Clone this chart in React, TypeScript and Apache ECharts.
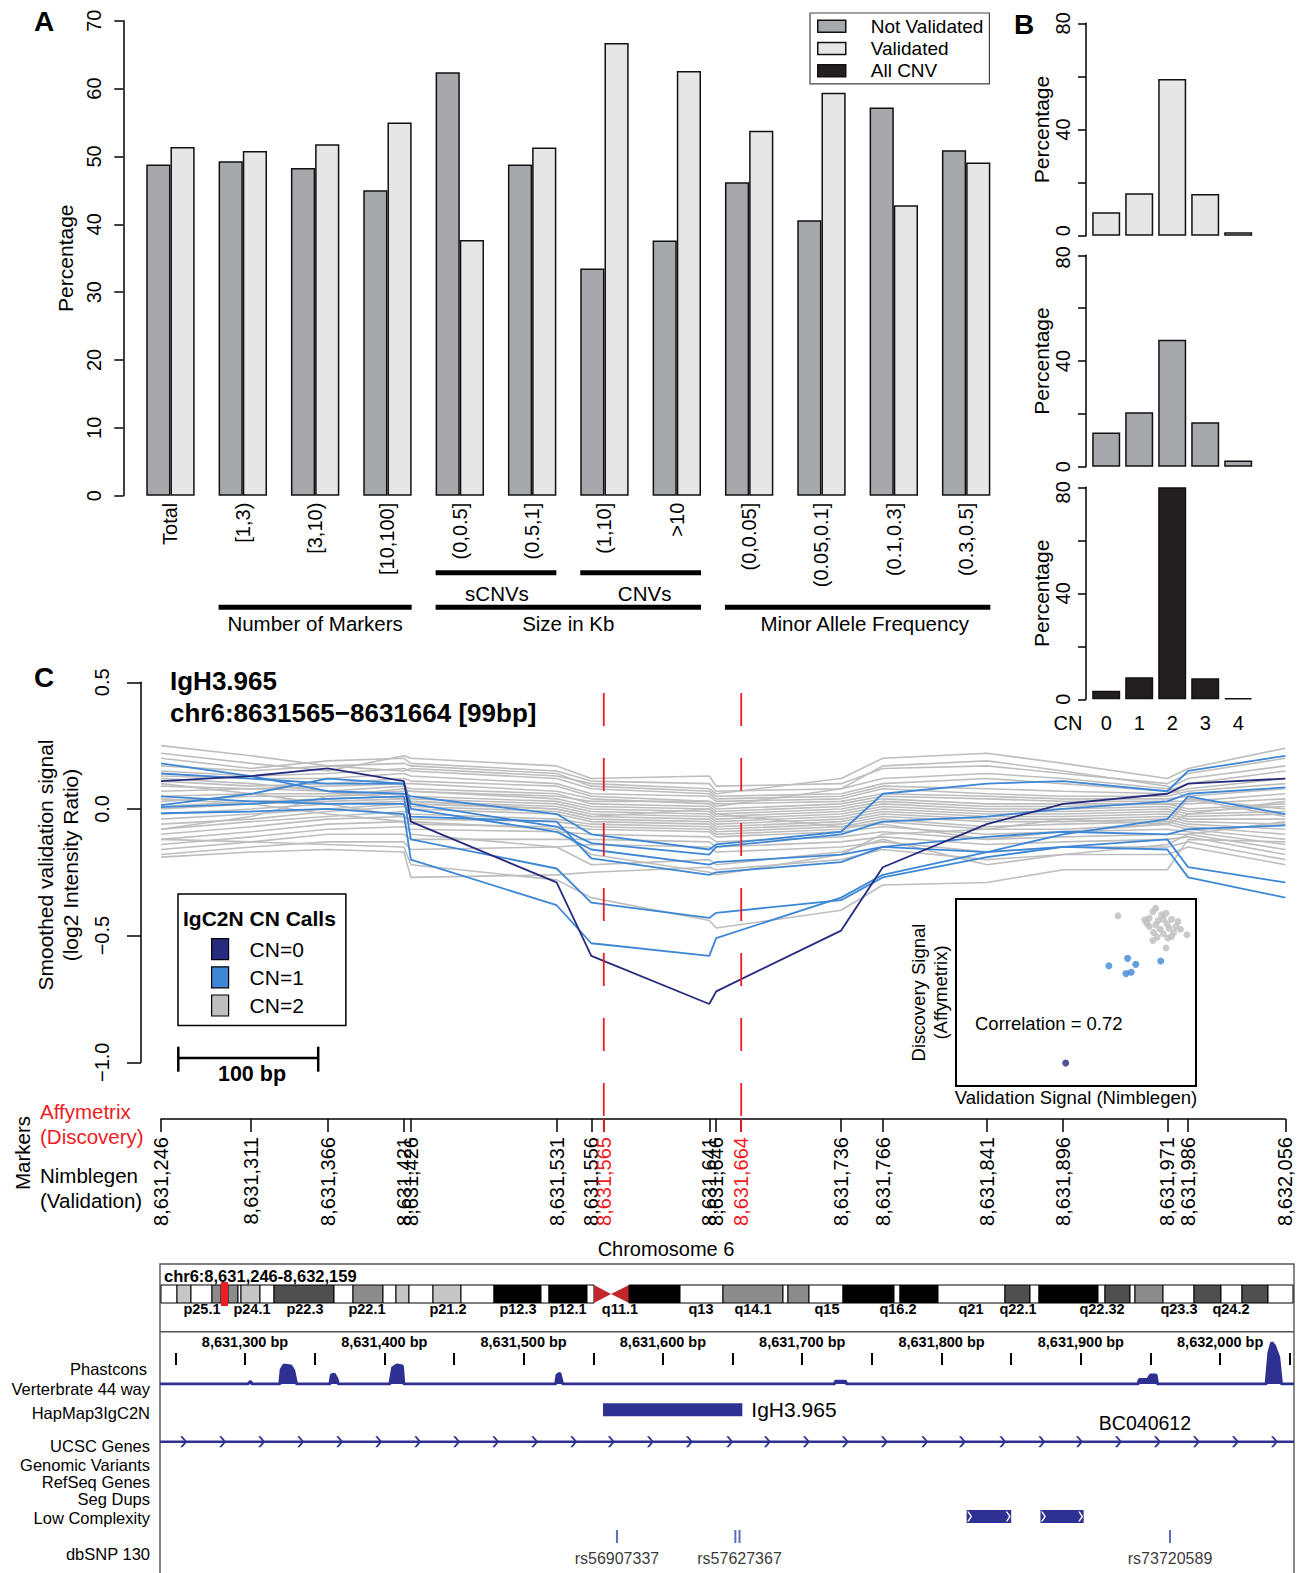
import React, { useEffect, useRef } from "react";
import * as echarts from "echarts";

const FONT = '"Liberation Sans", Arial, Helvetica, sans-serif';

// ---------------- Panel A ----------------
const groupLabels = ["Total", "[1,3)", "[3,10)", "[10,100]", "(0,0.5]", "(0.5,1]", "(1,10]", ">10", "(0,0.05]", "(0.05,0.1]", "(0.1,0.3]", "(0.3,0.5]"];
const notValidatedPct = [48.8, 49.3, 48.3, 45.0, 62.4, 48.8, 33.5, 37.6, 46.2, 40.6, 57.2, 50.9];
const validatedPct = [51.4, 50.8, 51.8, 55.0, 37.7, 51.3, 66.7, 62.6, 53.8, 59.4, 42.8, 49.1];
const bracketGroups = [
  { label: "sCNVs", from: 4, to: 5, row: 0, dx: 1 },
  { label: "CNVs", from: 6, to: 7, row: 0, dx: 4 },
  { label: "Number of Markers", from: 1, to: 3, row: 1, dx: 0 },
  { label: "Size in Kb", from: 4, to: 7, row: 1, dx: 0 },
  { label: "Minor Allele Frequency", from: 8, to: 11, row: 1, dx: 7 },
];

// ---------------- Panel B ----------------
const cnCategories = ["0", "1", "2", "3", "4"];
const validatedByCN = [8.8, 16.0, 59.0, 15.7, 1.3];
const notValidatedByCN = [12.9, 20.6, 48.0, 16.8, 2.3];
const allCnvByCN = [3.2, 8.3, 80.0, 7.9, 0.5];

// ---------------- Panel C ----------------
const nimblegenMarkers = [8631246, 8631311, 8631366, 8631421, 8631426, 8631531, 8631556, 8631641, 8631646, 8631736, 8631766, 8631841, 8631896, 8631971, 8631986, 8632056];
const affyMarkers = [8631565, 8631664];
const cn0Lines = [
  [0.11, 0.13, 0.16, 0.11, -0.05, -0.29, -0.58, -0.77, -0.72, -0.48, -0.23, -0.06, 0.02, 0.06, 0.10, 0.12],
];
const cn1Lines = [
  [0.18, 0.13, 0.07, 0.06, 0.05, -0.02, -0.10, -0.16, -0.14, -0.09, 0.06, 0.10, 0.11, 0.07, 0.15, 0.21],
  [0.14, 0.12, 0.10, 0.10, 0.02, -0.07, -0.135, -0.18, -0.15, -0.10, -0.05, -0.03, 0.00, 0.03, 0.06, 0.085],
  [0.015, 0.06, 0.12, 0.10, 0.00, -0.09, -0.16, -0.22, -0.21, -0.18, -0.15, -0.17, -0.15, -0.16, -0.27, -0.35],
  [0.007, 0.02, 0.04, 0.05, -0.12, -0.235, -0.37, -0.43, -0.41, -0.36, -0.27, -0.19, -0.15, -0.12, -0.23, -0.29],
  [-0.017, -0.01, 0.0, -0.02, -0.20, -0.38, -0.53, -0.58, -0.51, -0.35, -0.26, -0.17, -0.10, -0.04, 0.05, -0.02],
  [0.05, 0.03, 0.02, 0.02, -0.03, -0.05, -0.195, -0.26, -0.25, -0.21, -0.15, -0.11, -0.09, -0.10, -0.08, -0.065],
];
const cn2Lines = [
  [0.25, 0.21, 0.17, 0.15, 0.16, 0.13, 0.10, 0.08, 0.06, 0.12, 0.20, 0.22, 0.18, 0.12, 0.16, 0.24],
  [0.22, 0.18, 0.15, 0.21, 0.20, 0.17, 0.12, 0.13, 0.09, 0.10, 0.16, 0.17, 0.14, 0.10, 0.14, 0.20],
  [0.20, 0.16, 0.19, 0.20, 0.18, 0.15, 0.11, 0.10, 0.07, 0.08, 0.12, 0.14, 0.12, 0.08, 0.12, 0.17],
  [0.17, 0.15, 0.17, 0.18, 0.17, 0.14, 0.09, 0.07, 0.05, 0.06, 0.10, 0.12, 0.10, 0.07, 0.10, 0.15],
  [0.15, 0.13, 0.14, 0.16, 0.15, 0.12, 0.08, 0.06, 0.04, 0.05, 0.09, 0.08, 0.07, 0.06, 0.08, 0.12],
  [0.13, 0.12, 0.12, 0.14, 0.13, 0.10, 0.06, 0.05, 0.03, 0.04, 0.08, 0.06, 0.05, 0.05, 0.07, 0.10],
  [0.11, 0.09, 0.10, 0.12, 0.11, 0.09, 0.05, 0.03, 0.02, 0.03, 0.06, 0.05, 0.04, 0.04, 0.05, 0.08],
  [0.09, 0.08, 0.09, 0.10, 0.10, 0.07, 0.04, 0.02, 0.00, 0.02, 0.05, 0.04, 0.03, 0.03, 0.03, 0.06],
  [0.07, 0.08, 0.07, 0.09, 0.08, 0.06, 0.02, 0.01, -0.01, 0.01, 0.04, 0.02, 0.02, 0.02, 0.02, 0.04],
  [0.05, 0.06, 0.06, 0.07, 0.07, 0.04, 0.01, 0.00, -0.02, 0.00, 0.03, 0.01, 0.01, 0.02, 0.00, 0.02],
  [0.03, 0.05, 0.05, 0.06, 0.05, 0.03, 0.00, -0.01, -0.03, -0.01, 0.02, 0.00, 0.00, 0.01, -0.01, 0.01],
  [0.01, 0.03, 0.04, 0.05, 0.04, 0.02, -0.01, -0.02, -0.04, -0.02, 0.01, -0.01, -0.01, 0.00, -0.02, -0.01],
  [0.00, 0.02, 0.03, 0.04, 0.03, 0.01, -0.02, -0.03, -0.05, -0.03, 0.00, -0.02, -0.02, -0.01, -0.03, -0.02],
  [-0.02, 0.00, 0.02, 0.03, 0.02, 0.00, -0.03, -0.04, -0.06, -0.04, -0.01, -0.03, -0.03, -0.02, -0.04, -0.04],
  [-0.04, -0.02, 0.00, 0.02, 0.01, -0.01, -0.04, -0.05, -0.07, -0.05, -0.02, -0.04, -0.04, -0.03, -0.05, -0.06],
  [-0.06, -0.04, -0.01, 0.01, 0.00, -0.02, -0.05, -0.06, -0.08, -0.06, -0.03, -0.05, -0.05, -0.04, -0.06, -0.08],
  [-0.08, -0.05, -0.03, -0.01, -0.02, -0.04, -0.06, -0.07, -0.09, -0.07, -0.04, -0.07, -0.06, -0.05, -0.07, -0.10],
  [-0.10, -0.07, -0.04, -0.03, -0.04, -0.05, -0.07, -0.08, -0.10, -0.08, -0.05, -0.08, -0.08, -0.06, -0.08, -0.12],
  [-0.12, -0.09, -0.06, -0.05, -0.06, -0.07, -0.08, -0.09, -0.11, -0.09, -0.07, -0.10, -0.09, -0.08, -0.09, -0.14],
  [-0.14, -0.11, -0.08, -0.07, -0.08, -0.09, -0.10, -0.11, -0.13, -0.11, -0.09, -0.12, -0.11, -0.10, -0.10, -0.16],
  [-0.16, -0.13, -0.10, -0.10, -0.12, -0.12, -0.12, -0.13, -0.15, -0.13, -0.11, -0.14, -0.13, -0.12, -0.11, -0.18],
  [-0.18, -0.15, -0.13, -0.13, -0.16, -0.15, -0.14, -0.15, -0.17, -0.15, -0.13, -0.17, -0.15, -0.15, -0.13, -0.20],
  [-0.19, -0.17, -0.16, -0.17, -0.27, -0.26, -0.25, -0.23, -0.24, -0.20, -0.16, -0.20, -0.18, -0.18, -0.15, -0.22],
  [-0.12, -0.13, -0.14, -0.15, -0.22, -0.28, -0.35, -0.44, -0.47, -0.40, -0.30, -0.29, -0.24, -0.24, -0.12, -0.13],
  [0.04, 0.02, -0.02, -0.05, -0.10, -0.15, -0.22, -0.20, -0.22, -0.17, -0.12, -0.22, -0.18, -0.14, -0.10, -0.05],
  [0.10, 0.06, 0.02, -0.03, -0.05, -0.08, -0.18, -0.25, -0.26, -0.18, -0.10, -0.08, -0.04, -0.06, -0.02, 0.03],
  [-0.08, -0.03, 0.05, 0.08, 0.07, 0.05, 0.03, 0.03, 0.01, 0.08, 0.17, 0.19, 0.15, 0.09, 0.04, -0.03],
  [0.12, 0.10, 0.07, 0.04, 0.03, 0.00, -0.03, 0.00, -0.02, -0.07, -0.06, -0.12, -0.09, -0.06, 0.04, 0.00],
];
// inset: [validation (Nimblegen), discovery (Affymetrix)]
const insetCN2 = [[-0.125, 0.32], [0.032, 0.401], [0.02, 0.365], [0.057, 0.33], [0.075, 0.348], [-0.014, 0.277], [0.005, 0.294], [0.042, 0.269], [0.064, 0.284], [0.098, 0.284], [0.032, 0.223], [0.079, 0.234], [0.116, 0.206], [0.005, 0.206], [0.051, 0.177], [0.088, 0.188], [0.135, 0.177], [0.023, 0.142], [0.064, 0.128], [0.107, 0.142], [0.162, 0.117], [0.038, 0.092], [0.083, 0.082], [0.02, 0.057], [0.075, -0.025], [-0.005, 0.241], [0.125, 0.259], [0.098, 0.099]];
const insetCN1 = [[-0.163, -0.213], [-0.085, -0.135], [-0.051, -0.199], [-0.092, -0.298], [-0.07, -0.284], [0.053, -0.163]];
const insetCN0 = [[-0.343, -1.255]];
const correlationText = "Correlation = 0.72";

// ---------------- Genome browser ----------------
const browserMin = 8631239;
const browserMax = 8632053;
const rulerTicks = [8631250, 8631300, 8631350, 8631400, 8631450, 8631500, 8631550, 8631600, 8631650, 8631700, 8631750, 8631800, 8631850, 8631900, 8631950, 8632000, 8632050];
const rulerLabels = [8631300, 8631400, 8631500, 8631600, 8631700, 8631800, 8631900, 8632000];
const phastcons = [
  [8631239, 0], [8631302, 0], [8631304, 0.06], [8631305, 0],
  [8631325, 0], [8631326, 0.32], [8631328, 0.42], [8631333, 0.4], [8631335, 0.3], [8631337, 0],
  [8631361, 0], [8631362, 0.2], [8631364, 0.22], [8631366, 0.12], [8631367, 0],
  [8631404, 0], [8631406, 0.36], [8631409, 0.42], [8631413, 0.4], [8631414, 0],
  [8631523, 0], [8631524, 0.2], [8631526, 0.24], [8631528, 0],
  [8631723, 0], [8631724, 0.06], [8631731, 0.06], [8631732, 0],
  [8631941, 0], [8631942, 0.1], [8631948, 0.1], [8631950, 0.2], [8631954, 0.2], [8631955, 0],
  [8632033, 0], [8632035, 0.7], [8632037, 0.92], [8632039, 0.85], [8632042, 0.6], [8632044, 0],
  [8632053, 0],
];
const hapmapCnv = { name: "IgH3.965", start: 8631557, end: 8631657 };
const ucscGeneName = "BC040612";
const ucscGeneLabelAt = 8631946;
const ucscStrandMarks = [8631256, 8631284, 8631312, 8631340, 8631368, 8631396, 8631424, 8631452, 8631480, 8631508, 8631536, 8631563, 8631591, 8631619, 8631648, 8631675, 8631703, 8631731, 8631759, 8631788, 8631815, 8631844, 8631872, 8631899, 8631927, 8631955, 8631983, 8632011, 8632039];
const lowComplexity = [[8631818, 8631850], [8631871, 8631902]];
const dbSnp = [
  { bp: 8631567, name: "rs56907337" },
  { bp: 8631652, name: "" },
  { bp: 8631655, name: "rs57627367" },
  { bp: 8631964, name: "rs73720589" },
];
// ideogram bands [start, end, type] in ideogram units; 0 white,1 light,2 gray,3 dark,4 black,5 marker,6/7 centromere
const ideogramBands = [
  [0, 16, 0], [16, 30, 1], [30, 51, 0], [51, 60, 2], [67, 77, 2], [77, 80, 0], [80, 99, 1], [99, 113, 0],
  [113, 173, 3], [173, 192, 0], [192, 222, 2], [222, 235, 0], [235, 248, 1], [248, 272, 0], [272, 300, 1],
  [300, 333, 0], [333, 380, 4], [380, 388, 0], [388, 426, 4], [426, 433, 0], [433, 450, 6], [450, 468, 7],
  [468, 519, 4], [519, 562, 0], [562, 622, 2], [622, 627, 0], [627, 648, 2], [648, 682, 0], [682, 733, 4],
  [733, 739, 0], [739, 777, 4], [777, 844, 0], [844, 869, 3], [869, 878, 0], [878, 937, 4], [937, 944, 0],
  [944, 969, 3], [969, 974, 0], [974, 1002, 2], [1002, 1033, 0], [1033, 1060, 3], [1060, 1081, 0],
  [1081, 1107, 3], [1107, 1132, 0], [60, 67, 5],
];
const ideogramLabels = [
  ["p25.1", 41], ["p24.1", 91], ["p22.3", 144], ["p22.1", 206], ["p21.2", 287], ["p12.3", 357], ["p12.1", 407],
  ["q11.1", 459], ["q13", 540], ["q14.1", 592], ["q15", 666], ["q16.2", 737], ["q21", 810], ["q22.1", 857],
  ["q22.32", 941], ["q23.3", 1018], ["q24.2", 1070],
];
const trackLabels = [
  ["Phastcons", 147, 1369], ["Verterbrate 44 way", 150, 1389], ["HapMap3IgC2N", 150, 1413], ["UCSC Genes", 150, 1446],
  ["Genomic Variants", 150, 1465], ["RefSeq Genes", 150, 1482], ["Seg Dups", 150, 1499], ["Low Complexity", 150, 1518],
  ["dbSNP 130", 150, 1554],
];

// ---------------- styles ----------------
const C_DARK = "#a7a8ac";
const C_LIGHT = "#e6e6e6";
const C_ALL = "#231f20";
const C_CN0 = "#262b7d";
const C_CN1 = "#3d87d6";
const C_CN2 = "#bebebe";
const C_NAVY = "#2e3192";
const BAR_W_A = 24.2;
const BAR_W_B = 28;
const CHEVRON = "path://M0,0L3,0L9,6L3,12L0,12L6,6Z";
const bandFill = ["#ffffff", "#c6c6c6", "#8c8c8c", "#4f4f4f", "#000000"];

const fmt = (v: number) => v.toLocaleString("en-US");

function hiddenAxis(extra: any = {}) {
  return {
    show: true,
    axisLine: { show: false },
    axisTick: { show: false },
    axisLabel: { show: false },
    splitLine: { show: false },
    ...extra,
  };
}

function buildOption(): any {
  const grids: any[] = [
    { left: 134.3, top: 20.7, width: 868, height: 475 }, // 0 A
    { left: 1089.7, top: 23.3, width: 165, height: 212.4 }, // 1 B top
    { left: 1089.7, top: 255.3, width: 165, height: 211.4 }, // 2 B mid
    { left: 1089.7, top: 487.3, width: 165, height: 212 }, // 3 B bottom
    { left: 161, top: 682.3, width: 1124.3, height: 380 }, // 4 C lines
    { left: 161, top: 693, width: 1124.3, height: 426 }, // 5 markers axis
    { left: 956, top: 899, width: 240, height: 187, show: true, borderColor: "#000", borderWidth: 2, backgroundColor: "transparent" }, // 6 inset
    { left: 160, top: 1339, width: 1134, height: 45 }, // 7 phastcons
    { left: 160, top: 1399.7, width: 1134, height: 20 }, // 8 hapmap
    { left: 160, top: 1431.7, width: 1134, height: 20 }, // 9 ucsc
    { left: 160, top: 1506.5, width: 1134, height: 20 }, // 10 low complexity
    { left: 160, top: 1526.5, width: 1134, height: 20 }, // 11 dbsnp
    { left: 161, top: 1285, width: 1132, height: 18 }, // 12 ideogram
    { left: 161, top: 1302, width: 1132, height: 14 }, // 13 ideogram labels
    { left: 160, top: 1364, width: 1134, height: 1 }, // 14 ruler
  ].map((g) => ({ containLabel: false, outerBoundsMode: "none", ...g }));

  const axisBlack = { lineStyle: { color: "#000", width: 1.5 } };
  const lblBase = { color: "#000", fontFamily: FONT };

  const xAxis: any[] = [
    hiddenAxis({ type: "category", gridIndex: 0, data: groupLabels, axisLabel: { show: true, ...lblBase, fontSize: 20, rotate: 90, margin: 7, interval: 0 } }),
    hiddenAxis({ type: "category", gridIndex: 1, data: cnCategories }),
    hiddenAxis({ type: "category", gridIndex: 2, data: cnCategories }),
    hiddenAxis({ type: "category", gridIndex: 3, data: cnCategories, axisLabel: { show: true, ...lblBase, fontSize: 20, margin: 14, interval: 0 } }),
    hiddenAxis({ type: "value", gridIndex: 4, min: nimblegenMarkers[0], max: nimblegenMarkers[nimblegenMarkers.length - 1] }),
    {
      type: "value", gridIndex: 5, position: "bottom",
      min: nimblegenMarkers[0], max: nimblegenMarkers[nimblegenMarkers.length - 1],
      axisLine: { show: true, onZero: false, ...axisBlack },
      axisTick: { show: true, length: 13, customValues: [...nimblegenMarkers, ...affyMarkers], lineStyle: { color: "#000", width: 1.5 } },
      axisLabel: {
        show: true, ...lblBase, fontSize: 20, rotate: 90, margin: 18,
        customValues: [...nimblegenMarkers, ...affyMarkers],
        formatter: (v: number) => (affyMarkers.includes(v) ? `{red|${fmt(v)}}` : fmt(v)),
        rich: { red: { color: "#ee1c25", fontSize: 20, fontFamily: FONT } },
      },
      splitLine: { show: false },
    },
    hiddenAxis({
      type: "value", gridIndex: 6, min: -0.8, max: 0.2,
      name: "Validation Signal (Nimblegen)", nameLocation: "middle", nameGap: 2,
      nameTextStyle: { ...lblBase, fontSize: 18.5, lineHeight: 19, verticalAlign: "top" },
    }),
    hiddenAxis({ type: "value", gridIndex: 7, min: browserMin, max: browserMax }),
    hiddenAxis({ type: "value", gridIndex: 8, min: browserMin, max: browserMax }),
    hiddenAxis({ type: "value", gridIndex: 9, min: browserMin, max: browserMax }),
    hiddenAxis({ type: "value", gridIndex: 10, min: browserMin, max: browserMax }),
    hiddenAxis({ type: "value", gridIndex: 11, min: browserMin, max: browserMax }),
    hiddenAxis({ type: "value", gridIndex: 12, min: 0, max: 1132 }),
    hiddenAxis({ type: "value", gridIndex: 13, min: 0, max: 1132 }),
    {
      type: "value", gridIndex: 14, position: "top", min: browserMin, max: browserMax,
      axisLine: { show: false },
      axisTick: { show: true, length: 12, customValues: rulerTicks, lineStyle: { color: "#000", width: 2 } },
      axisLabel: { show: true, ...lblBase, fontSize: 14.5, fontWeight: "bold", margin: 15, customValues: rulerLabels, formatter: (v: number) => `${fmt(v)} bp` },
      splitLine: { show: false },
    },
  ];

  // panel B label nudges (labels at the junction of stacked panels sit slightly apart, like the reference)
  const bLabel = (gi: number) => (v: number) => {
    if (v % 40 !== 0) return "";
    if (v === 0 && gi === 1) return "{lo|0}";
    if (v === 80 && gi === 3) return "{hi|80}";
    if (v === 80 && gi === 2) return "{hm|80}";
    return String(v);
  };
  const bRich = {
    lo: { padding: [0, 0, 0, 10], fontSize: 20, fontFamily: FONT, color: "#000" },
    hi: { padding: [0, 10, 0, 0], fontSize: 20, fontFamily: FONT, color: "#000" },
    hm: { padding: [0, 4, 0, 0], fontSize: 20, fontFamily: FONT, color: "#000" },
  };

  const yAxis: any[] = [
    {
      type: "value", gridIndex: 0, min: 0, max: 70, interval: 10, offset: 11,
      axisLine: { show: true, ...axisBlack }, axisTick: { show: true, length: 9, lineStyle: { width: 1.5, color: "#000" } },
      axisLabel: { ...lblBase, fontSize: 20, lineHeight: 20, rotate: 90, margin: 19 },
      splitLine: { show: false },
      name: "Percentage", nameLocation: "middle", nameGap: 46,
      nameTextStyle: { ...lblBase, fontSize: 21, lineHeight: 21 },
    },
    ...[1, 2, 3].map((gi) => ({
      type: "value", gridIndex: gi, min: 0, max: 80, interval: 20, offset: 3.7,
      axisLine: { show: true, ...axisBlack }, axisTick: { show: true, length: 8, lineStyle: { width: 1.5, color: "#000" } },
      axisLabel: { ...lblBase, fontSize: 20, lineHeight: 20, rotate: 90, margin: 13, formatter: bLabel(gi), rich: bRich },
      splitLine: { show: false },
      name: "Percentage", nameLocation: "middle", nameGap: 30,
      nameTextStyle: { ...lblBase, fontSize: 21, lineHeight: 21 },
    })),
    {
      type: "value", gridIndex: 4, min: -1, max: 0.5, interval: 0.5, offset: 20,
      axisLine: { show: true, ...axisBlack }, axisTick: { show: true, length: 14, lineStyle: { width: 1.5, color: "#000" } },
      axisLabel: { ...lblBase, fontSize: 20, lineHeight: 20, rotate: 90, margin: 29, formatter: (v: number) => (v < 0 ? "\u2212" : "") + Math.abs(v).toFixed(1) },
      splitLine: { show: false },
    },
    hiddenAxis({ type: "value", gridIndex: 5, min: 0, max: 1 }),
    hiddenAxis({
      type: "value", gridIndex: 6, min: -1.5, max: 0.5,
      name: "Discovery Signal\n(Affymetrix)", nameLocation: "middle", nameGap: 4,
      nameTextStyle: { ...lblBase, fontSize: 18.5, lineHeight: 22.5 },
    }),
    hiddenAxis({ type: "value", gridIndex: 7, min: 0, max: 1 }),
    ...[8, 9, 10, 11, 12, 13, 14].map((gi) => hiddenAxis({ type: "value", gridIndex: gi, min: 0, max: 1 })),
  ];

  const barStyle = (color: string) => ({ color, borderColor: "#111", borderWidth: 1.5 });
  const series: any[] = [];

  // Panel A
  series.push({ type: "bar", name: "Not Validated", xAxisIndex: 0, yAxisIndex: 0, data: notValidatedPct, barWidth: BAR_W_A, barGap: "0%", itemStyle: barStyle(C_DARK), silent: true });
  series.push({ type: "bar", name: "Validated", xAxisIndex: 0, yAxisIndex: 0, data: validatedPct, barWidth: BAR_W_A, barGap: "0%", itemStyle: barStyle(C_LIGHT), silent: true });
  // Panel B
  series.push({ type: "bar", name: "Validated", xAxisIndex: 1, yAxisIndex: 1, data: validatedByCN, barWidth: BAR_W_B, itemStyle: barStyle(C_LIGHT), silent: true });
  series.push({ type: "bar", name: "Not Validated", xAxisIndex: 2, yAxisIndex: 2, data: notValidatedByCN, barWidth: BAR_W_B, itemStyle: barStyle(C_DARK), silent: true });
  series.push({ type: "bar", name: "All CNV", xAxisIndex: 3, yAxisIndex: 3, data: allCnvByCN, barWidth: BAR_W_B, itemStyle: barStyle(C_ALL), silent: true });

  // Panel C lines
  const addLines = (lines: number[][], name: string, color: string, width: number) => {
    lines.forEach((vals) => {
      series.push({
        type: "line", name, xAxisIndex: 4, yAxisIndex: 4, showSymbol: false, silent: true,
        data: nimblegenMarkers.map((m, i) => [m, vals[i]]),
        lineStyle: { color, width }, itemStyle: { color }, emphasis: { disabled: true },
      });
    });
  };
  addLines(cn2Lines, "CN=2", C_CN2, 1.6);
  addLines(cn1Lines, "CN=1", C_CN1, 1.8);
  addLines(cn0Lines, "CN=0", C_CN0, 1.8);

  // red dashed Affymetrix marker lines
  affyMarkers.forEach((m) => {
    series.push({
      type: "line", xAxisIndex: 5, yAxisIndex: 5, showSymbol: false, silent: true, clip: false,
      data: [[m, 1], [m, 0]], lineStyle: { color: "#ee1c25", width: 1.8, type: [33, 32] },
    });
    series.push({
      type: "line", xAxisIndex: 5, yAxisIndex: 5, showSymbol: false, silent: true, clip: false, z: 5,
      data: [[m, 0], [m, -0.0305]], lineStyle: { color: "#ee1c25", width: 1.8 },
    });
  });

  // inset scatter
  series.push({ type: "scatter", name: "CN=2", xAxisIndex: 6, yAxisIndex: 6, data: insetCN2, symbolSize: 7, itemStyle: { color: C_CN2 }, silent: true });
  series.push({ type: "scatter", name: "CN=1", xAxisIndex: 6, yAxisIndex: 6, data: insetCN1, symbolSize: 7, itemStyle: { color: C_CN1 }, silent: true });
  series.push({ type: "scatter", name: "CN=0", xAxisIndex: 6, yAxisIndex: 6, data: insetCN0, symbolSize: 7, itemStyle: { color: C_CN0 }, silent: true });

  // browser: phastcons
  series.push({
    type: "line", xAxisIndex: 7, yAxisIndex: 7, data: phastcons, showSymbol: false, silent: true,
    lineStyle: { color: C_NAVY, width: 3 }, areaStyle: { color: C_NAVY, opacity: 1 },
  });
  // hapmap CNV
  series.push({
    type: "line", name: hapmapCnv.name, xAxisIndex: 8, yAxisIndex: 8, showSymbol: false, silent: true,
    data: [[hapmapCnv.start, 0.5], [hapmapCnv.end, 0.5]],
    lineStyle: { color: C_NAVY, width: 13, cap: "butt" },
    endLabel: { show: true, formatter: "{a}", color: "#000", fontSize: 21, fontFamily: FONT, distance: 9 },
  });
  // UCSC gene
  series.push({
    type: "line", xAxisIndex: 9, yAxisIndex: 9, silent: true, showSymbol: true, showAllSymbol: true,
    symbol: CHEVRON, symbolSize: [7, 11],
    data: [
      { value: [browserMin, 0.5], symbol: "none" },
      ...ucscStrandMarks.map((b) => ({ value: [b, 0.5] })),
      { value: [browserMax, 0.5], symbol: "none" },
    ],
    lineStyle: { color: C_NAVY, width: 2.5 }, itemStyle: { color: C_NAVY },
  });
  // low complexity
  lowComplexity.forEach(([s, e]) => {
    series.push({
      type: "line", xAxisIndex: 10, yAxisIndex: 10, silent: true, showSymbol: true,
      symbol: CHEVRON, symbolSize: [5, 10],
      data: [{ value: [s, 0.5], symbolOffset: [3, 0] }, { value: [e, 0.5], symbolOffset: [-3, 0] }],
      lineStyle: { color: C_NAVY, width: 13, cap: "butt" }, itemStyle: { color: "#ffffff" },
    });
  });
  // dbSNP
  series.push({
    type: "scatter", xAxisIndex: 11, yAxisIndex: 11, silent: true, symbol: "rect", symbolSize: [2, 13],
    itemStyle: { color: "#3949ab" },
    data: dbSnp.map((s) => ({ name: s.name, value: [s.bp, 0.5], label: { show: !!s.name } })),
    label: { show: true, position: "bottom", distance: 7, formatter: "{b}", color: "#000", fontSize: 16, fontFamily: FONT },
  });
  // ideogram
  series.push({
    type: "custom", xAxisIndex: 12, yAxisIndex: 12, silent: true, clip: false,
    data: ideogramBands,
    encode: { x: [0, 1] },
    renderItem: (_p: any, api: any) => {
      const s = api.value(0), e = api.value(1), t = api.value(2);
      const a = api.coord([s, 1]);
      const b = api.coord([e, 0]);
      const x0 = a[0], yT = a[1], x1 = b[0], yB = b[1];
      const ym = (yT + yB) / 2;
      if (t === 6) return { type: "polygon", shape: { points: [[x0, yT], [x1, ym], [x0, yB]] }, style: { fill: "#c1272d" } };
      if (t === 7) return { type: "polygon", shape: { points: [[x1, yT], [x0, ym], [x1, yB]] }, style: { fill: "#c1272d" } };
      if (t === 5) return { type: "rect", shape: { x: x0, y: yT - 3, width: x1 - x0, height: yB - yT + 6 }, style: { fill: "#ee1c25" } };
      return { type: "rect", shape: { x: x0, y: yT, width: x1 - x0, height: yB - yT }, style: { fill: bandFill[t], stroke: "#000", lineWidth: 1 } };
    },
  });
  // ideogram band names
  series.push({
    type: "custom", xAxisIndex: 13, yAxisIndex: 13, silent: true, clip: false, z: 3,
    data: ideogramLabels.map(([n, p]) => ({ name: n, value: [p, 0.5] })),
    renderItem: (params: any, api: any) => {
      const pt = api.coord([api.value(0), api.value(1)]);
      const lbl = ideogramLabels[params.dataIndex][0] as string;
      return {
        type: "text", x: pt[0], y: pt[1],
        style: { text: lbl, fill: "#000", fontSize: 14.5, fontWeight: "bold", fontFamily: FONT, align: "center", verticalAlign: "middle", textAlign: "center", textVerticalAlign: "middle" },
      };
    },
  });

  return {
    animation: false,
    backgroundColor: "#ffffff",
    textStyle: { fontFamily: FONT, color: "#000" },
    grid: grids,
    xAxis,
    yAxis,
    legend: [
      {
        left: 810, top: 13, orient: "vertical", selectedMode: false,
        borderColor: "#444", borderWidth: 1.2, padding: [3, 6, 3, 7], itemGap: 2,
        itemWidth: 28, itemHeight: 12, icon: "rect",
        textStyle: { fontSize: 19, lineHeight: 20.3, color: "#000", fontFamily: FONT, padding: [0, 0, 0, 20] },
        data: [
          { name: "Not Validated", itemStyle: { color: C_DARK, borderColor: "#111", borderWidth: 1.5 } },
          { name: "Validated", itemStyle: { color: C_LIGHT, borderColor: "#111", borderWidth: 1.5 } },
          { name: "All CNV", itemStyle: { color: C_ALL, borderColor: "#111", borderWidth: 1.5 } },
        ],
      },
      {
        left: 178, top: 894, orient: "vertical", selectedMode: false,
        borderColor: "#000", borderWidth: 1.5, padding: [44, 42, 9, 33], itemGap: 6,
        itemWidth: 17, itemHeight: 21, icon: "rect",
        textStyle: { fontSize: 21, lineHeight: 21, color: "#000", fontFamily: FONT, padding: [0, 0, 0, 16] },
        data: [
          { name: "CN=0", itemStyle: { color: C_CN0, borderColor: "#000", borderWidth: 1.2 }, lineStyle: { opacity: 0, width: 0 } },
          { name: "CN=1", itemStyle: { color: C_CN1, borderColor: "#000", borderWidth: 1.2 }, lineStyle: { opacity: 0, width: 0 } },
          { name: "CN=2", itemStyle: { color: C_CN2, borderColor: "#000", borderWidth: 1.2 }, lineStyle: { opacity: 0, width: 0 } },
        ],
      },
    ],
    series,
  };
}

function txt(text: string, x: number, y: number, o: any = {}) {
  const align = o.align || "center";
  return {
    type: "text", x, y, rotation: o.rotation || 0, silent: true, z: 50,
    style: {
      text, fill: o.color || "#000", fontSize: o.size || 20, fontWeight: o.bold ? "bold" : "normal", fontFamily: FONT,
      align, verticalAlign: "middle", textAlign: align, textVerticalAlign: "middle",
    },
  };
}
function seg(x1: number, y1: number, x2: number, y2: number, w: number, color = "#000") {
  return { type: "line", silent: true, z: 50, shape: { x1, y1, x2, y2 }, style: { stroke: color, lineWidth: w } };
}

function buildGraphics(chart: any): any[] {
  const els: any[] = [];
  // panel letters
  els.push(txt("A", 44, 21.7, { size: 28, bold: true }));
  els.push(txt("B", 1024, 24, { size: 28, bold: true }));
  els.push(txt("C", 44, 677.5, { size: 28, bold: true }));

  // brackets under panel A
  bracketGroups.forEach((g) => {
    const x1 = (chart.convertToPixel({ xAxisIndex: 0 }, g.from) as number) - BAR_W_A;
    const x2 = (chart.convertToPixel({ xAxisIndex: 0 }, g.to) as number) + BAR_W_A;
    const ly = g.row === 0 ? 572.7 : 607.3;
    const ty = g.row === 0 ? 593 : 623;
    els.push(seg(x1, ly, x2, ly, 5));
    els.push(txt(g.label, (x1 + x2) / 2 + g.dx, ty, { size: 20.5 }));
  });

  // panel B "CN"
  els.push(txt("CN", 1068, 723.3, { size: 20 }));

  // panel C title
  els.push(txt("IgH3.965", 170, 681, { size: 26, bold: true, align: "left" }));
  els.push(txt("chr6:8631565\u22128631664 [99bp]", 170, 713, { size: 26, bold: true, align: "left" }));
  // panel C y title
  els.push(txt("Smoothed validation signal", 45.6, 865, { size: 21, rotation: Math.PI / 2 }));
  els.push(txt("(log2 Intensity Ratio)", 70.5, 865, { size: 21, rotation: Math.PI / 2 }));
  // legend title
  els.push(txt("IgC2N CN Calls", 183, 918, { size: 21, bold: true, align: "left" }));
  // scale bar
  els.push(seg(178.3, 1058, 318.2, 1058, 2.5));
  els.push(seg(178.3, 1046.7, 178.3, 1071.7, 2.5));
  els.push(seg(318.2, 1046.7, 318.2, 1071.7, 2.5));
  els.push(txt("100 bp", 252, 1074, { size: 21.5, bold: true }));
  // inset text
  els.push(txt(correlationText, 975, 1023, { size: 18.5, align: "left" }));

  // markers labels
  els.push(txt("Markers", 22, 1153, { size: 20.5, rotation: Math.PI / 2 }));
  els.push(txt("Affymetrix", 40, 1111, { size: 20.5, align: "left", color: "#ee1c25" }));
  els.push(txt("(Discovery)", 40, 1136.7, { size: 20.5, align: "left", color: "#ee1c25" }));
  els.push(txt("Nimblegen", 40, 1175, { size: 20.5, align: "left" }));
  els.push(txt("(Validation)", 40, 1200, { size: 20.5, align: "left" }));
  els.push(txt("Chromosome 6", 666, 1249, { size: 20 }));

  // browser frame
  els.push({ type: "rect", silent: true, z: 1, shape: { x: 160, y: 1264, width: 1134, height: 330 }, style: { fill: "none", stroke: "#555", lineWidth: 1.4 } });
  els.push(seg(160, 1331.7, 1294, 1331.7, 1.4, "#555"));
  els.push(txt("chr6:8,631,246-8,632,159", 164, 1276, { size: 16.5, bold: true, align: "left" }));
  const gx = chart.convertToPixel({ xAxisIndex: 9 }, ucscGeneLabelAt) as number;
  els.push(txt(ucscGeneName, gx, 1423, { size: 19.5 }));
  trackLabels.forEach(([t, x, y]) => els.push(txt(t as string, x as number, y as number, { size: 16.5, align: "right" })));
  return els;
}

export default function App() {
  const ref = useRef<HTMLDivElement>(null);
  useEffect(() => {
    if (!ref.current) return;
    const chart = echarts.init(ref.current, null, { renderer: "svg" });
    chart.setOption(buildOption());
    chart.setOption({ graphic: { elements: buildGraphics(chart) } });
    return () => chart.dispose();
  }, []);
  return <div ref={ref} style={{ position: "absolute", left: 0, top: 0, width: 1300, height: 1573, background: "#fff" }} />;
}
